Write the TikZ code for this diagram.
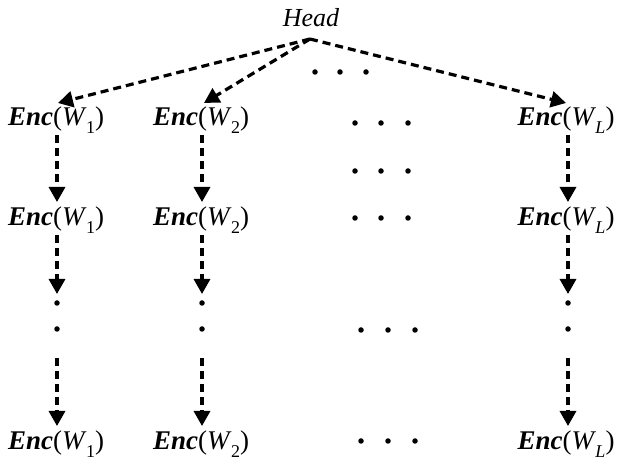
\documentclass[tikz,border=0pt]{standalone}
\usepackage{fontspec}
\setmainfont{Liberation Serif}
\usetikzlibrary{arrows.meta}
\newcommand{\encw}[1]{\textbf{\textit{Enc}}(\textit{W}\kern-0.02em\raisebox{-0.26em}{\fontsize{18}{18}\selectfont #1})}
\tikzset{
  lbl/.style={inner sep=0pt, anchor=base, font=\fontsize{27}{32}\selectfont},
  darr/.style={line width=3.2pt, dash pattern=on 8pt off 5pt, -{Triangle[width=16pt,length=15pt]}},
  dotc/.style={fill=black, circle, inner sep=0pt, minimum size=5.5pt},
}
\begin{document}
\begin{tikzpicture}[x=1pt,y=-1pt]
\useasboundingbox[fill=white] (0,0) rectangle (622,462);
% head
\node[lbl, font=\fontsize{26}{30}\selectfont\itshape] (head) at (311,27) {Head};
\coordinate (apex) at (310,39);
% row 1
\node[lbl] (a1) at (56,126) {\encw{1}};
\node[lbl] (b1) at (201,126) {\encw{2}};
\node[lbl] (c1) at (566,126) {\encw{\textit{L}}};
% row 2
\node[lbl] (a2) at (56,226) {\encw{1}};
\node[lbl] (b2) at (201,226) {\encw{2}};
\node[lbl] (c2) at (566,226) {\encw{\textit{L}}};
% bottom
\node[lbl] (a3) at (56,450) {\encw{1}};
\node[lbl] (b3) at (201,450) {\encw{2}};
\node[lbl] (c3) at (566,450) {\encw{\textit{L}}};
% arrow endpoints
\coordinate (ta1) at (58,103);
\coordinate (tb1) at (204,103);
\coordinate (tc1) at (566,103);
\draw[darr] (apex) -- (ta1);
\draw[darr] (apex) -- (tb1);
\draw[darr] (apex) -- (tc1);
% vertical arrows
\coordinate (sa1) at (57,135); \coordinate (ea1) at (57,202);
\coordinate (sb1) at (202,135); \coordinate (eb1) at (202,202);
\coordinate (sc1) at (568,135); \coordinate (ec1) at (568,202);
\draw[darr] (sa1) -- (ea1);
\draw[darr] (sb1) -- (eb1);
\draw[darr] (sc1) -- (ec1);
\coordinate (sa2) at (57,235); \coordinate (ea2) at (57,294);
\coordinate (sb2) at (202,235); \coordinate (eb2) at (202,294);
\coordinate (sc2) at (568,235); \coordinate (ec2) at (568,294);
\draw[darr] (sa2) -- (ea2);
\draw[darr] (sb2) -- (eb2);
\draw[darr] (sc2) -- (ec2);
\coordinate (sa3) at (57,358); \coordinate (ea3) at (57,426);
\coordinate (sb3) at (202,358); \coordinate (eb3) at (202,426);
\coordinate (sc3) at (568,358); \coordinate (ec3) at (568,426);
\draw[darr] (sa3) -- (ea3);
\draw[darr] (sb3) -- (eb3);
\draw[darr] (sc3) -- (ec3);
% vertical dots
\foreach \x in {57,202,568} {
  \node[dotc] at (\x,303) {};
  \node[dotc] at (\x,329) {};
}
% horizontal dots
\foreach \y/\x in {72/315,72/340,72/366,
                   123/355,123/381,123/408,
                   171/355,171/381,171/408,
                   218/355,218/381,218/408,
                   330/361,330/388,330/415,
                   441/361,441/388,441/415} {
  \node[dotc] at (\x,\y) {};
}
\end{tikzpicture}
\end{document}
